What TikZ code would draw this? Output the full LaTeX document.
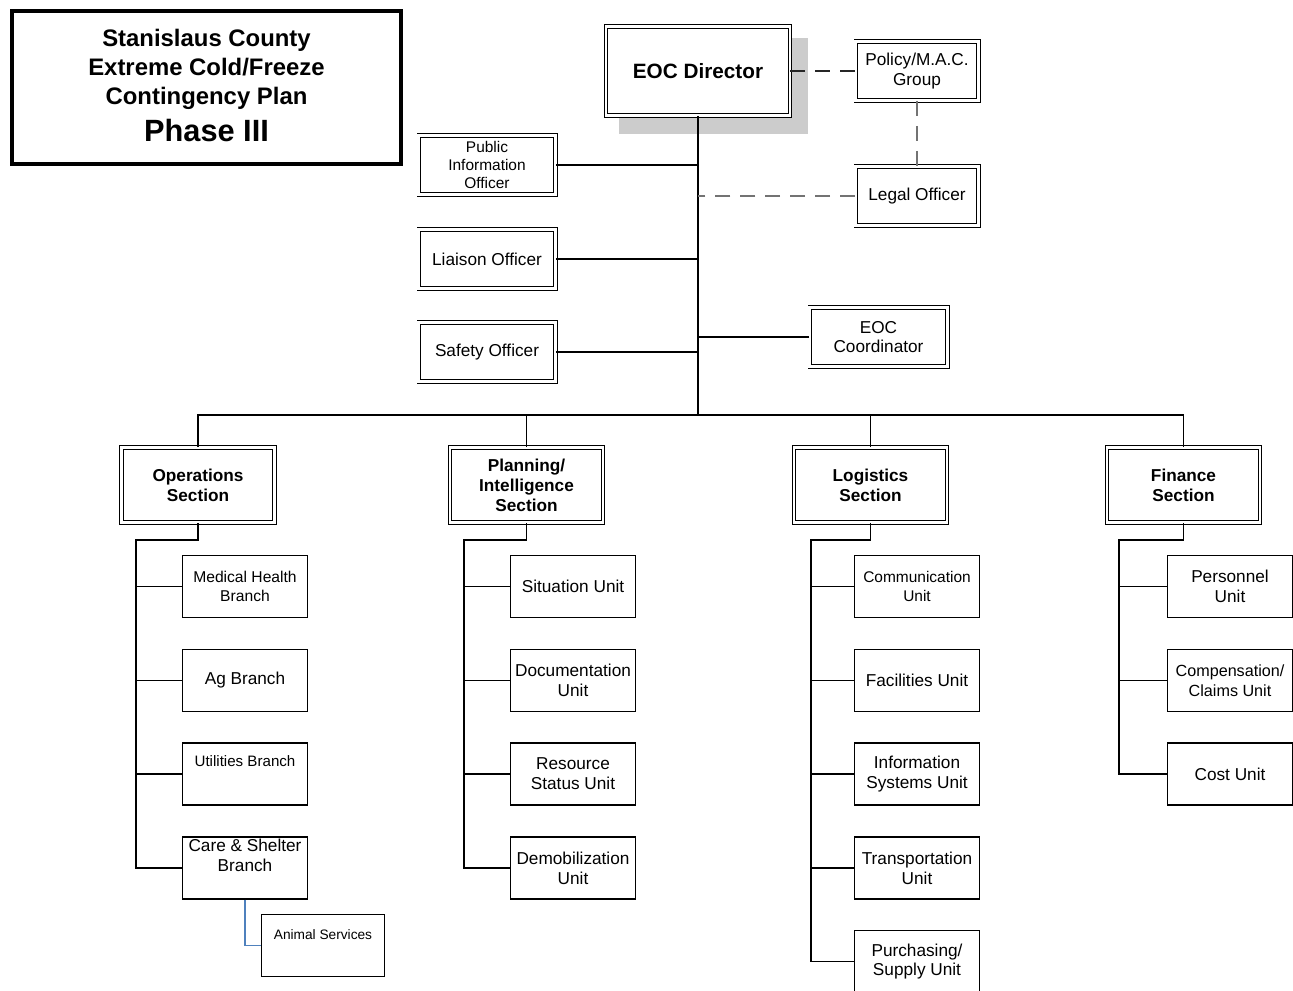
\documentclass[tikz,border=0pt]{standalone}
\usepackage{fontspec}
\setmainfont{Liberation Sans}
\newcommand\fnorm{\fontsize{9.8}{11.3}\selectfont}
\newcommand\fsmall{\fontsize{8.8}{10.5}\selectfont}
\begin{document}
\begin{tikzpicture}[x=0.02cm,y=-0.02cm,
  dbox/.style={draw, double, double distance=1.3pt, line width=0.5pt, fill=white, align=center, inner sep=1pt, font=\fnorm},
  sbox/.style={draw, line width=0.6pt, fill=white, align=center, inner sep=1pt, font=\fnorm, minimum width=2.5cm, minimum height=1.24cm},
  secbox/.style={dbox, font=\fnorm\bfseries, minimum width=3.06cm, minimum height=1.5cm},
  staff/.style={dbox, minimum width=2.74cm, minimum height=1.18cm},
  conn/.style={line width=0.6pt},
  dashg/.style={line width=0.8pt, draw=black!55, dash pattern=on 8.5pt off 5.7pt},
  dashk/.style={line width=0.7pt, draw=black!85, dash pattern=on 8.5pt off 5.7pt},
  bluel/.style={line width=0.6pt, draw={rgb,255:red,79;green,129;blue,189}}]
\useasboundingbox (0,0) rectangle (1293,990);

% title
\node[draw, line width=2.3pt, minimum width=7.78cm, minimum height=3.06cm, align=center] (title) at (206.5,87.5) {};
\node[align=center, font=\fontsize{13.6}{16.4}\selectfont\bfseries] (titletxt) at (206.5,69.5)
  {Stanislaus County\\Extreme Cold/Freeze\\Contingency Plan};
\node[font=\fontsize{17.5}{20}\selectfont\bfseries] (phase) at (206.5,130.5) {Phase III};

% director
\fill[black!20] (619,38) rectangle (808,134);
\node[dbox, minimum width=3.68cm, minimum height=1.78cm, font=\fontsize{11.8}{14}\selectfont\bfseries] (dir) at (698,71) {EOC Director};
\node[dbox, minimum width=2.46cm, minimum height=1.18cm] (pol) at (917,71) {Policy/M.A.C.\\Group};
\node[dbox, minimum width=2.46cm, minimum height=1.18cm] (legal) at (917,196) {Legal Officer};

\node[staff, font=\fsmall] (pio) at (487,165) {Public\\Information\\Officer};
\node[staff] (liaison) at (487,259) {Liaison Officer};
\node[staff] (safety) at (487,352) {Safety Officer};
\node[dbox, minimum width=2.76cm, minimum height=1.18cm] (coord) at (878.5,337) {EOC\\Coordinator};

\coordinate (bus) at (698,415);
\draw[conn] (dir.south) -- (bus);
\draw[conn] (pio.east) -- (pio.east -| bus);
\draw[conn] (liaison.east) -- (liaison.east -| bus);
\draw[conn] (safety.east) -- (safety.east -| bus);
\draw[conn] (coord.west) -- (coord.west -| bus);
\draw[dashk] (pol.west -| dir.east) -- (pol.west);
\draw[dashg] (pol.south) -- (legal.north);
\draw[dashg] (legal.west) -- (legal.west -| bus);

% sections
\node[secbox] (ops) at (198,485) {Operations\\Section};
\node[secbox] (plan) at (526.5,485) {Planning/\\Intelligence\\Section};
\node[secbox] (log) at (870.5,485) {Logistics\\Section};
\node[secbox] (fin) at (1183.5,485) {Finance\\Section};
\draw[conn] (ops.north) |- (bus);
\draw[conn] (plan.north) |- (bus);
\draw[conn] (log.north) |- (bus);
\draw[conn] (fin.north) |- (bus);

% operations
\node[sbox, font=\fontsize{8.9}{10.7}\selectfont] (o1) at (245,586.5) {Medical Health\\Branch};
\node[sbox] (o2) at (245,680.5) {Ag Branch};
\node[sbox, font=\fontsize{8.6}{11.3}\selectfont] (o3) at (245,774) {Utilities Branch\\\strut};
\node[sbox] (o4) at (245,868) {Care \& Shelter\\Branch\\\strut};
\node[sbox, minimum width=2.46cm, font=\fontsize{7.8}{9.6}\selectfont] (animal) at (323,945.5) {Animal Services\\\strut};
\coordinate (obus) at (136,540);
\draw[conn] (ops.south) |- (obus) |- (o4.west);
\foreach \n in {o1,o2,o3} \draw[conn] (\n.west) -- (\n.west -| obus);
\draw[bluel] (o4.south) |- (animal.west);

% planning
\node[sbox] (p1) at (573,586.5) {Situation Unit};
\node[sbox] (p2) at (573,680.5) {Documentation\\Unit};
\node[sbox] (p3) at (573,774) {Resource\\Status Unit};
\node[sbox] (p4) at (573,868) {Demobilization\\Unit};
\coordinate (pbus) at (464,540);
\draw[conn] (plan.south) |- (pbus) |- (p4.west);
\foreach \n in {p1,p2,p3} \draw[conn] (\n.west) -- (\n.west -| pbus);

% logistics
\node[sbox, font=\fontsize{8.8}{10.7}\selectfont] (l1) at (917,586.5) {Communication\\Unit};
\node[sbox] (l2) at (917,680.5) {Facilities Unit};
\node[sbox] (l3) at (917,774) {Information\\Systems Unit};
\node[sbox] (l4) at (917,868) {Transportation\\Unit};
\node[sbox] (l5) at (917,961.5) {Purchasing/\\Supply Unit};
\coordinate (lbus) at (811,540);
\draw[conn] (log.south) |- (lbus) |- (l5.west);
\foreach \n in {l1,l2,l3,l4} \draw[conn] (\n.west) -- (\n.west -| lbus);

% finance
\node[sbox] (f1) at (1230,586.5) {Personnel\\Unit};
\node[sbox, font=\fontsize{9.2}{11.3}\selectfont] (f2) at (1230,680.5) {Compensation/\\Claims Unit};
\node[sbox] (f3) at (1230,774) {Cost Unit};
\coordinate (fbus) at (1119,540);
\draw[conn] (fin.south) |- (fbus) |- (f3.west);
\foreach \n in {f1,f2} \draw[conn] (\n.west) -- (\n.west -| fbus);
\end{tikzpicture}
\end{document}
